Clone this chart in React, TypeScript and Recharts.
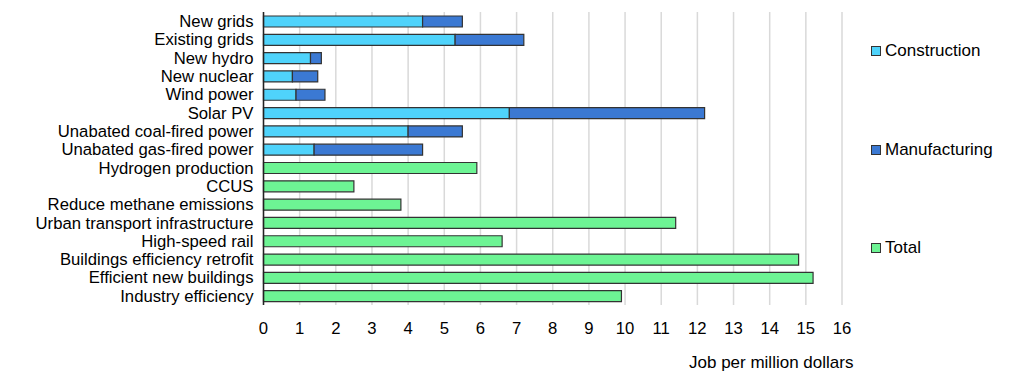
import { BarChart, Bar, XAxis, YAxis, CartesianGrid } from 'recharts';

const categories = [
  'New grids',
  'Existing grids',
  'New hydro',
  'New nuclear',
  'Wind power',
  'Solar PV',
  'Unabated coal-fired power',
  'Unabated gas-fired power',
  'Hydrogen production',
  'CCUS',
  'Reduce methane emissions',
  'Urban transport infrastructure',
  'High-speed rail',
  'Buildings efficiency retrofit',
  'Efficient new buildings',
  'Industry efficiency',
];

const construction = [4.4, 5.3, 1.3, 0.8, 0.9, 6.8, 4.0, 1.4, null, null, null, null, null, null, null, null];
const manufacturing = [1.1, 1.9, 0.3, 0.7, 0.8, 5.4, 1.5, 3.0, null, null, null, null, null, null, null, null];
const total = [null, null, null, null, null, null, null, null, 5.9, 2.5, 3.8, 11.4, 6.6, 14.8, 15.2, 9.9];

const xTicks = [0, 1, 2, 3, 4, 5, 6, 7, 8, 9, 10, 11, 12, 13, 14, 15, 16];

const series = [
  { key: 'construction', name: 'Construction', color: '#4fd3fb' },
  { key: 'manufacturing', name: 'Manufacturing', color: '#3b79d3' },
  { key: 'total', name: 'Total', color: '#6df494' },
];

const data = categories.map((name, i) => ({
  name,
  construction: construction[i],
  manufacturing: manufacturing[i],
  total: total[i],
}));

const font = '"Liberation Sans", Arial, sans-serif';

export default function App() {
  return (
    <div style={{ position: 'absolute', left: 0, top: 0, width: 1022, height: 389, background: '#fff', fontFamily: font }}>
      <BarChart
        layout="vertical"
        width={1022}
        height={389}
        data={data}
        margin={{ top: 12, right: 180, bottom: 54, left: 0 }}
        barSize={11}
      >
        <CartesianGrid horizontal={false} stroke="#d9d9d9" strokeWidth={1.5} />
        <XAxis
          type="number"
          domain={[0, 16]}
          ticks={xTicks}
          interval={0}
          axisLine={false}
          tickLine={false}
          tickSize={0}
          tickMargin={17}
          tick={{ fill: '#000', fontSize: 16.7, fontFamily: font }}
        />
        <YAxis
          type="category"
          dataKey="name"
          width={263.5}
          interval={0}
          axisLine={{ stroke: '#222', strokeWidth: 1.5 }}
          tickLine={false}
          tickSize={0}
          tickMargin={10}
          tick={{ fill: '#000', fontSize: 16.7, fontFamily: font }}
        />
        {series.map((s) => (
          <Bar
            key={s.key}
            dataKey={s.key}
            name={s.name}
            stackId="a"
            fill={s.color}
            stroke="#333"
            strokeWidth={1.2}
            isAnimationActive={false}
          />
        ))}
      </BarChart>
      {series.map((s, i) => (
        <div
          key={s.key}
          style={{
            position: 'absolute',
            left: 871,
            top: 41 + i * 98.5,
            display: 'flex',
            alignItems: 'center',
            fontSize: 17,
            color: '#000',
            whiteSpace: 'nowrap',
          }}
        >
          <span
            style={{
              display: 'inline-block',
              width: 8,
              height: 8,
              background: s.color,
              border: '1.2px solid #333',
              marginRight: 4,
            }}
          />
          {s.name}
        </div>
      ))}
      <div
        style={{
          position: 'absolute',
          left: 689,
          top: 353,
          fontSize: 17,
          color: '#000',
          whiteSpace: 'nowrap',
        }}
      >
        Job per million dollars
      </div>
    </div>
  );
}
